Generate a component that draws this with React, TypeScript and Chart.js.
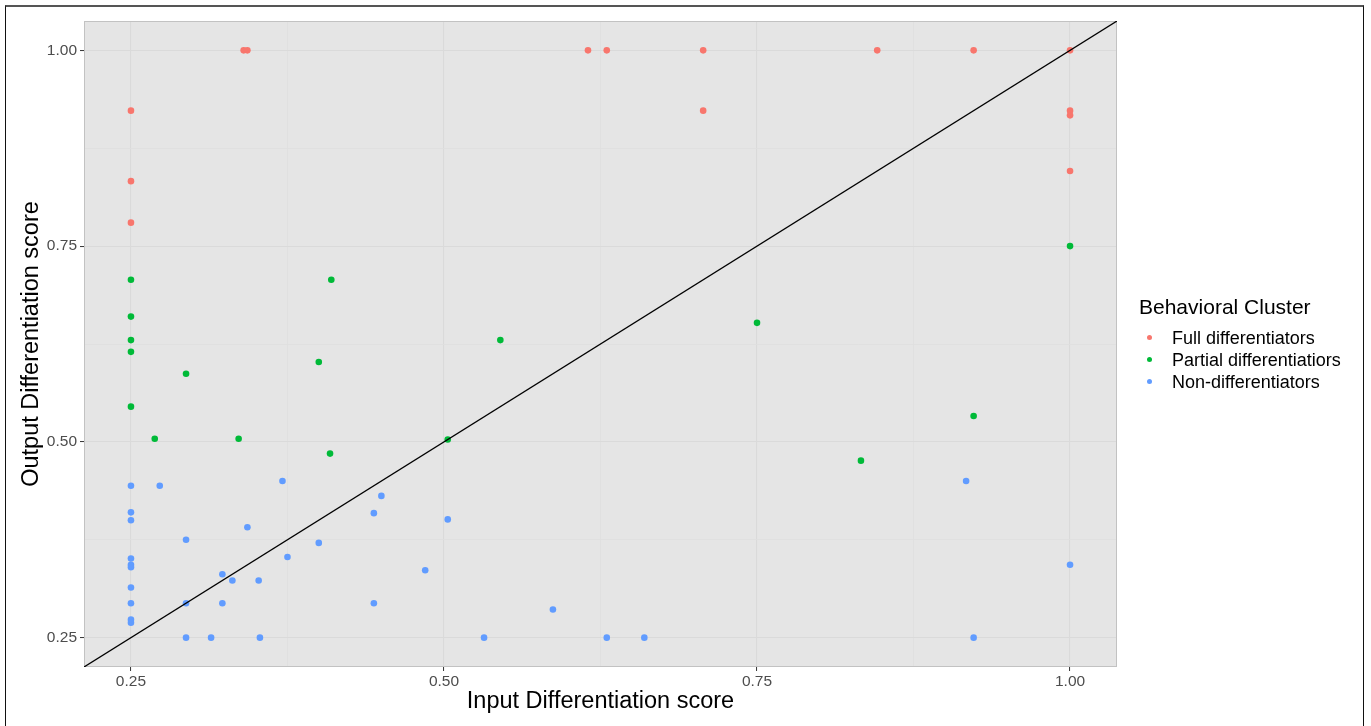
import React, { useEffect, useRef } from 'react';
import { Chart, registerables } from 'chart.js';

Chart.register(...registerables);

// ---- Data ----
const seriesNames = ['Full differentiators', 'Partial differentiatiors', 'Non-differentiators'];
const seriesColors = ['#F8766D', '#00BA38', '#619CFF'];

const fullX = [0.340, 0.343, 0.25, 0.25, 0.25, 0.615, 0.630, 0.707, 0.707, 0.846, 0.923, 1.0, 1.0, 1.0, 1.0];
const fullY = [1.0, 1.0, 0.923, 0.833, 0.780, 1.0, 1.0, 1.0, 0.923, 1.0, 1.0, 1.0, 0.923, 0.917, 0.846];

const partialX = [0.25, 0.25, 0.25, 0.25, 0.25, 0.269, 0.294, 0.336, 0.40, 0.41, 0.409, 0.503, 0.545, 0.75, 0.833, 0.923, 1.0];
const partialY = [0.707, 0.66, 0.63, 0.615, 0.545, 0.504, 0.587, 0.504, 0.602, 0.707, 0.485, 0.503, 0.63, 0.652, 0.476, 0.533, 0.75];

const nonX = [0.25, 0.273, 0.25, 0.25, 0.371, 0.450, 0.444, 0.343, 0.294, 0.400, 0.375, 0.25, 0.25, 0.25, 0.323, 0.331, 0.352, 0.25, 0.25, 0.294, 0.323, 0.444, 0.25, 0.25, 0.294, 0.314, 0.353, 0.503, 0.485, 0.587, 0.532, 0.630, 0.660, 0.917, 1.0, 0.923];
const nonY = [0.444, 0.444, 0.410, 0.400, 0.450, 0.431, 0.409, 0.391, 0.375, 0.371, 0.353, 0.351, 0.343, 0.340, 0.331, 0.323, 0.323, 0.314, 0.294, 0.294, 0.294, 0.294, 0.273, 0.269, 0.25, 0.25, 0.25, 0.401, 0.336, 0.286, 0.25, 0.25, 0.25, 0.450, 0.343, 0.25];

const majorTicks = [0.25, 0.5, 0.75, 1.0];
const minorTicks = [0.375, 0.625, 0.875];
const tickLabels = ['0.25', '0.50', '0.75', '1.00'];
const axisMin = 0.2125;
const axisMax = 1.0375;

const xTitle = 'Input Differentiation score';
const yTitle = 'Output Differentiation score';
const legendTitle = 'Behavioral Cluster';

const FONT = '"Liberation Sans", Arial, Helvetica, sans-serif';

const isMajor = (v: number) => majorTicks.some((m) => Math.abs(m - v) < 1e-6);
const labelFor = (v: number) => {
  const i = majorTicks.findIndex((m) => Math.abs(m - v) < 1e-6);
  return i >= 0 ? tickLabels[i] : '';
};

const panelPlugin = {
  id: 'panel',
  beforeDraw(chart: any) {
    const { ctx, chartArea: a } = chart;
    ctx.save();
    ctx.fillStyle = '#e5e5e5';
    ctx.fillRect(a.left, a.top, a.right - a.left, a.bottom - a.top);
    ctx.restore();
  },
  beforeDatasetsDraw(chart: any) {
    const { ctx, chartArea: a } = chart;
    ctx.save();
    ctx.strokeStyle = '#c2c2c2';
    ctx.lineWidth = 1;
    ctx.strokeRect(a.left + 0.5, a.top + 0.5, a.right - a.left - 1, a.bottom - a.top - 1);
    ctx.restore();
  },
};

const makeScale = (title: string, isX: boolean) => ({
  type: 'linear',
  min: axisMin,
  max: axisMax,
  afterBuildTicks: (s: any) => {
    s.ticks = [...majorTicks, ...minorTicks].sort((a, b) => a - b).map((v) => ({ value: v }));
  },
  afterFit: (s: any) => {
    if (isX) s.height = 59;
    else s.width = 84;
  },
  ticks: {
    autoSkip: false,
    maxRotation: 0,
    minRotation: 0,
    padding: isX ? 1 : 3,
    color: '#4d4d4d',
    font: { family: FONT, size: 15.5 },
    callback: (v: any) => labelFor(Number(v)),
  },
  grid: {
    drawTicks: true,
    tickLength: 4,
    color: (c: any) => (c.tick && isMajor(c.tick.value) ? '#dadada' : '#dedede'),
    lineWidth: (c: any) => (c.tick && isMajor(c.tick.value) ? 1.1 : 0.8),
    tickColor: (c: any) => (c.tick && isMajor(c.tick.value) ? '#333333' : 'rgba(0,0,0,0)'),
    tickWidth: 1,
  },
  border: { display: false },
  title: {
    display: true,
    text: title,
    color: '#000',
    font: { family: FONT, size: 23.5 },
    padding: isX ? { top: 0, bottom: 10 } : { top: 17, bottom: 0 },
  },
});

export default function App() {
  const ref = useRef<HTMLCanvasElement | null>(null);

  useEffect(() => {
    if (!ref.current) return;
    const mk = (xs: number[], ys: number[]) => xs.map((x, i) => ({ x, y: ys[i] }));
    const seriesData = [mk(fullX, fullY), mk(partialX, partialY), mk(nonX, nonY)];
    const diag = [
      { x: axisMin, y: axisMin },
      { x: axisMax, y: axisMax },
    ];
    const chart = new Chart(ref.current, {
      type: 'scatter',
      data: {
        datasets: [
          {
            type: 'line',
            label: 'y = x',
            data: diag,
            borderColor: '#000000',
            borderWidth: 1.3,
            pointRadius: 0,
            fill: false,
            tension: 0,
            order: 0,
          } as any,
          ...seriesNames.map((name, i) => ({
            label: name,
            data: seriesData[i],
            backgroundColor: seriesColors[i],
            borderWidth: 0,
            pointRadius: 3.3,
            pointHoverRadius: 3.3,
            order: i + 1,
          })),
        ],
      },
      options: {
        responsive: false,
        animation: false,
        layout: { padding: { left: 0, top: 21, right: 254, bottom: 0 } },
        plugins: { legend: { display: false }, tooltip: { enabled: false } },
        scales: {
          x: makeScale(xTitle, true) as any,
          y: makeScale(yTitle, false) as any,
        },
      },
      plugins: [panelPlugin],
    });
    return () => chart.destroy();
  }, []);

  return (
    <div
      style={{
        position: 'fixed',
        left: 0,
        top: 0,
        width: 1371,
        height: 726,
        background: '#fff',
        overflow: 'hidden',
        fontFamily: FONT,
      }}
    >
      <div
        style={{
          position: 'absolute',
          left: 5,
          top: 5,
          width: 1357,
          height: 800,
          borderLeft: '1.5px solid #111',
          borderRight: '1px solid #111',
          borderTop: '2px solid #555',
        }}
      />
      <canvas ref={ref} width={1371} height={726} style={{ position: 'absolute', left: 0, top: 0 }} />
      <div
        style={{
          position: 'absolute',
          left: 1139,
          top: 307 - 13,
          lineHeight: '26px',
          fontSize: 21,
          color: '#000',
          whiteSpace: 'nowrap',
        }}
      >
        {legendTitle}
      </div>
      {seriesNames.map((name, i) => {
        const cy = 338 + i * 22;
        return (
          <React.Fragment key={name}>
            <div
              style={{
                position: 'absolute',
                left: 1149 - 2.5,
                top: cy - 3.5,
                width: 5,
                height: 5,
                borderRadius: '50%',
                background: seriesColors[i],
              }}
            />
            <div
              style={{
                position: 'absolute',
                left: 1172,
                top: cy - 11,
                lineHeight: '22px',
                fontSize: 18,
                color: '#000',
                whiteSpace: 'nowrap',
              }}
            >
              {name}
            </div>
          </React.Fragment>
        );
      })}
    </div>
  );
}
